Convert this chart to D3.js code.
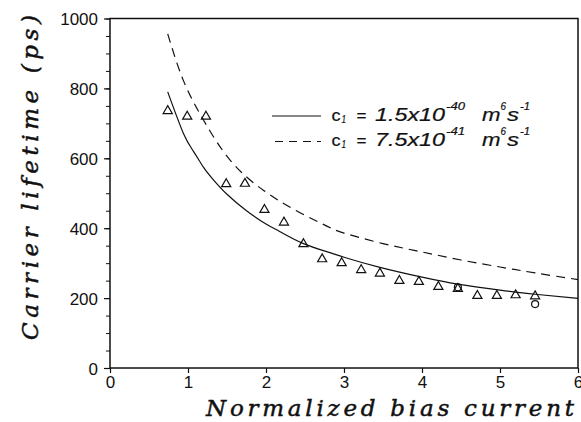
<!DOCTYPE html>
<html>
<head>
<meta charset="utf-8">
<script src="https://cdn.jsdelivr.net/npm/d3@7"></script>
<style>
  html, body { margin: 0; padding: 0; background: #fff; }
  svg { display: block; }
  .tick text { font-family: "Liberation Sans", Arial, sans-serif; font-size: 17px; fill: #111; }
</style>
</head>
<body>
<script>
// data
const measX = [0.74, 0.99, 1.23, 1.49, 1.73, 1.98, 2.23, 2.48, 2.72, 2.97, 3.22, 3.46, 3.71, 3.96, 4.21, 4.46, 4.71, 4.96, 5.20, 5.45];
const measY = [737, 721, 721, 528, 529, 454, 418, 356, 313, 302, 282, 272, 251, 248, 234, 228, 208, 208, 210, 207];
const circX = [4.46, 5.45];
const circY = [231, 183];

const solidX = [0.74, 0.94, 1.07, 1.20, 1.32, 1.50, 1.75, 2.00, 2.18, 2.48, 2.82, 3.00, 3.46, 4.00, 4.46, 5.00, 5.45, 6.00];
const solidY = [790, 672, 620, 574, 540, 497, 450, 412, 390, 356, 330, 317, 288, 260, 240, 223, 211, 199];
const dashX = [0.74, 0.94, 1.20, 1.55, 1.97, 2.39, 2.78, 3.00, 3.50, 4.00, 4.50, 5.00, 5.45, 6.00];
const dashY = [956, 823, 709, 592, 508, 450, 406, 386, 356, 332, 309, 289, 272, 253];

const xTicks = [0, 1, 2, 3, 4, 5, 6];
const yTicks = [0, 200, 400, 600, 800, 1000];
const yMinor = d3.range(0, 1001, 50);

const legendCoef = ["1.5", "7.5"];
const legendExp = ["-40", "-41"];

const width = 581, height = 422;
const svg = d3.select("body").append("svg").attr("width", width).attr("height", height);

const x = d3.scaleLinear().domain([0, 6]).range([110, 578]);
const y = d3.scaleLinear().domain([0, 1000]).range([368, 18.5]);

// frame
svg.append("rect")
   .attr("x", x(0)).attr("y", y(1000))
   .attr("width", x(6) - x(0)).attr("height", y(0) - y(1000))
   .attr("fill", "none").attr("stroke", "#111").attr("stroke-width", 1.5);

// axes
const yAxis = d3.axisLeft(y).tickValues(yTicks).tickSize(6).tickPadding(6).tickFormat(d3.format("d"));
svg.append("g").attr("transform", `translate(${x(0)},0)`).call(yAxis)
   .call(g => g.select(".domain").remove())
   .call(g => g.selectAll(".tick line").attr("stroke", "#111").attr("stroke-width", 1.2))
   .call(g => g.selectAll(".tick text").attr("dy", "0.36em"));

svg.append("g").attr("transform", `translate(${x(0)},0)`)
   .call(d3.axisLeft(y).tickValues(yMinor).tickSize(4).tickFormat(""))
   .call(g => g.select(".domain").remove())
   .call(g => g.selectAll(".tick line").attr("stroke", "#111").attr("stroke-width", 1));

const xAxis = d3.axisBottom(x).tickValues(xTicks).tickSize(5).tickPadding(3).tickFormat(d3.format("d"));
svg.append("g").attr("transform", `translate(0,${y(0)})`).call(xAxis)
   .call(g => g.select(".domain").remove())
   .call(g => g.selectAll(".tick line").attr("stroke", "#111").attr("stroke-width", 1.2));

// curves
const line = d3.line().x(d => x(d[0])).y(d => y(d[1])).curve(d3.curveNatural);
svg.append("path")
   .datum(d3.zip(solidX, solidY))
   .attr("d", line)
   .attr("fill", "none").attr("stroke", "#111").attr("stroke-width", 1.2);
svg.append("path")
   .datum(d3.zip(dashX, dashY))
   .attr("d", line)
   .attr("fill", "none").attr("stroke", "#111").attr("stroke-width", 1.2)
   .attr("stroke-dasharray", "9,6");

// markers
const tri = d3.symbol().type(d3.symbolTriangle).size(36);
svg.append("g").selectAll("path")
   .data(d3.zip(measX, measY))
   .join("path")
   .attr("transform", d => `translate(${x(d[0])},${y(d[1]) + 0.5})`)
   .attr("d", tri)
   .attr("fill", "none").attr("stroke", "#111").attr("stroke-width", 1.2);

svg.append("g").selectAll("circle")
   .data(d3.zip(circX, circY))
   .join("circle")
   .attr("cx", d => x(d[0])).attr("cy", d => y(d[1]))
   .attr("r", 3.5)
   .attr("fill", "none").attr("stroke", "#111").attr("stroke-width", 1.2);

// legend - pieces placed one by one, the original font is wide
const legend = svg.append("g").attr("class", "legend")
   .style("font-family", "'Liberation Sans', Arial, sans-serif")
   .attr("fill", "#111");
legendCoef.forEach((c, i) => {
  const ly = 116 + i * 25.5;
  const base = ly + 4.7;
  legend.append("line")
        .attr("x1", i ? 275 : 272).attr("x2", 321).attr("y1", ly).attr("y2", ly)
        .attr("stroke", "#111").attr("stroke-width", 1.2)
        .attr("stroke-dasharray", i ? "8,6" : null);
  const put = (tx, px, dy, size, italic, len) => {
    const t = legend.append("text").attr("x", px).attr("y", base + dy)
          .style("font-size", size + "px")
          .style("font-style", italic ? "italic" : "normal")
          .attr("stroke", "#111").attr("stroke-width", 0.2)
          .text(tx);
    if (len) t.attr("textLength", len).attr("lengthAdjust", "spacingAndGlyphs");
    return t;
  };
  put("c", 331.5, 0, 16, false, 9);
  put("1", 341.5, 2, 10, true, 4.5);
  put("=", 356.5, 0, 17, false, 10);
  put(c + "x10", 375, 0, 18, true, 70);
  put(legendExp[i], 446, -11, 10, true, 19);
  put("m", 482, 0, 18, true, 18.5);
  put("6", 500.5, -11, 10, true, 5.5);
  put("s", 507, 0, 18, true, 12);
  put("-1", 520, -11, 10, true, 10);
});

// axis titles
svg.append("text")
   .attr("x", 574).attr("y", 416)
   .attr("text-anchor", "end")
   .attr("textLength", 368).attr("lengthAdjust", "spacing")
   .style("font-family", "'DejaVu Serif', serif")
   .style("font-size", "23px").style("font-style", "italic")
   .attr("fill", "#111").attr("stroke", "#111").attr("stroke-width", 0.5)
   .text("Normalized bias current");

svg.append("text")
   .attr("transform", "translate(38,340) rotate(-90)")
   .attr("textLength", 325).attr("lengthAdjust", "spacing")
   .style("font-family", "'DejaVu Serif', serif")
   .style("font-size", "23px").style("font-style", "italic")
   .attr("fill", "#111").attr("stroke", "#111").attr("stroke-width", 0.5)
   .text("Carrier lifetime (ps)");
</script>
</body>
</html>
